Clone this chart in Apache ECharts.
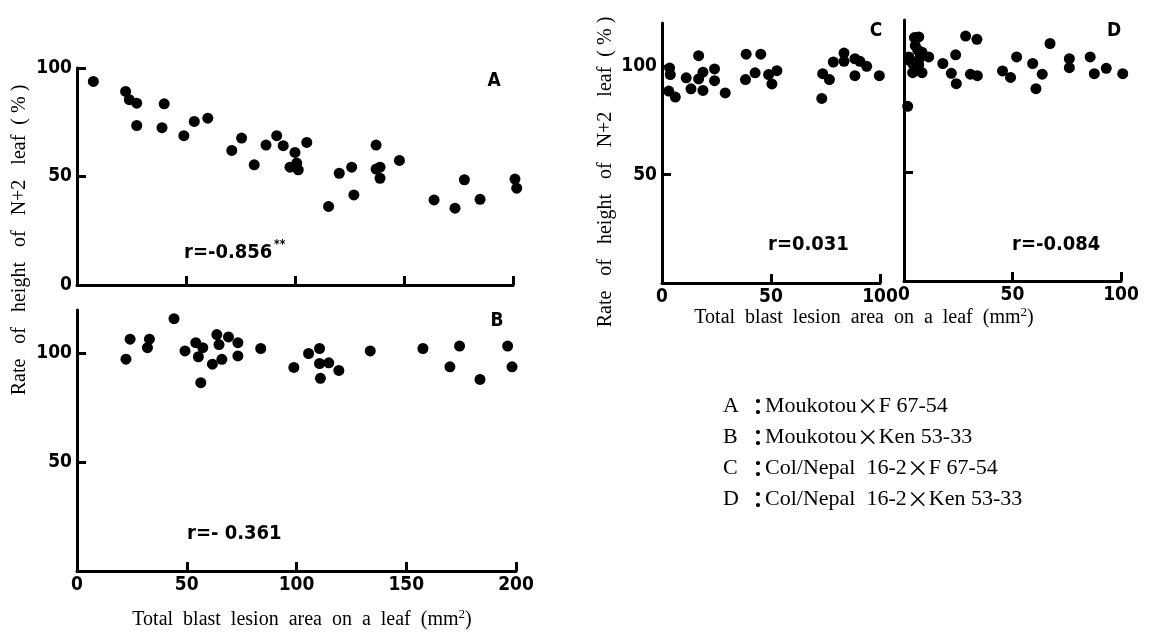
<!DOCTYPE html>
<html>
<head>
<meta charset="utf-8">
<title>Blast lesion area vs N+2 leaf height</title>
<script src="https://cdn.jsdelivr.net/npm/echarts@6/dist/echarts.min.js"></script>
<style>
	html, body { margin: 0; padding: 0; background: #ffffff; }
	#chart { width: 1152px; height: 636px; }
</style>
</head>
<body>
<div id="chart"></div>
<script>
/* A : Moukotou x F 67-54 */
var pointsA = [
	[7.5, 93.8], [22.3, 89.2], [24, 85.4], [27.4, 83.8], [27.4, 73.5], [40, 83.5],
	[39, 72.5], [49, 68.8], [53.8, 75.4], [60, 76.9], [71, 62], [75.5, 67.7],
	[81.3, 55.4], [86.7, 64.5], [91.6, 68.8], [94.6, 64.2], [97.7, 54.3], [100, 61.1],
	[100.8, 56.2], [101.5, 53.1], [105.4, 65.7], [115.4, 36.2], [120.3, 51.5], [126, 54.3],
	[127, 41.5], [137.2, 64.5], [137.2, 53.4], [139, 54.3], [139, 49.2], [147.9, 57.4],
	[163.8, 39.2], [173.4, 35.4], [177.7, 48.5], [184.9, 39.5], [200.9, 48.8], [201.7, 44.6]
]
/* B : Moukotou x Ken 53-33 */
var pointsB = [
	[22.3, 97.4], [24.2, 106.6], [32.1, 102.7], [33, 106.6], [44.2, 116], [49.2, 101.2],
	[54.1, 105], [55.3, 98.5], [56.4, 86.6], [57.3, 102.7], [61.7, 95.1], [63.7, 108.7],
	[64.7, 104.1], [66, 97.3], [69, 107.6], [73.3, 105], [73.3, 98.9], [83.7, 102.3],
	[98.8, 93.6], [105.5, 100], [110.5, 102.3], [110.5, 95.4], [110.9, 88.6], [114.7, 95.7],
	[119.3, 92.2], [133.6, 101.2], [157.6, 102.3], [169.9, 93.9], [174.3, 103.4], [183.6, 88.1],
	[196.2, 103.4], [198.2, 93.9]
]
/* C : Col/Nepal 16-2 x F 67-54 */
var pointsC = [
	[3.5, 99.2], [3.8, 96.2], [3.1, 88.6], [6.1, 85.8], [11.1, 94.7], [13.3, 89.6],
	[16.8, 104.9], [16.8, 94.2], [18.8, 97.3], [18.8, 88.9], [24.1, 98.8], [24.1, 93.4],
	[29, 87.7], [38.6, 105.6], [38.3, 93.9], [42.7, 97], [45.3, 105.6], [48.9, 96.2],
	[50.4, 91.9], [52.7, 98], [73.3, 85.2], [73.7, 96.6], [76.8, 93.9], [78.6, 102],
	[83.5, 106.1], [83.5, 102.3], [88.5, 95.7], [88.5, 103.5], [90.8, 102.3], [93.9, 100],
	[99.7, 95.7]
]
/* D : Col/Nepal 16-2 x Ken 53-33 */
var pointsD = [
	[2.2, 103], [1.7, 80.3], [4.8, 111.9], [6.8, 112.2], [5.2, 108.2], [6.3, 106.2],
	[4, 100], [4, 95.8], [6.8, 99.3], [8.3, 105.2], [8.3, 95.8], [11.4, 103],
	[7.1, 102.2], [17.9, 100], [21.8, 95.5], [23.8, 104], [24.1, 90.7], [28.4, 112.6],
	[30.6, 95.1], [33.6, 111.1], [33.8, 94.4], [45.4, 96.6], [49.1, 93.6], [51.9, 103],
	[59.3, 100], [60.8, 88.4], [63.7, 95.1], [67.3, 109.2], [76.2, 102.2], [76.2, 98.1],
	[85.8, 103], [87.7, 95.3], [93.2, 97.8], [100.8, 95.3]
]

var panelNames = ["A", "B", "C", "D"]
var rTexts = ["r=-0.856", "r=- 0.361", "r=0.031", "r=-0.084"]
var legendRows = [
	["A", "Moukotou", "F 67-54"],
	["B", "Moukotou", "Ken 53-33"],
	["C", "Col/Nepal  16-2", "F 67-54"],
	["D", "Col/Nepal  16-2", "Ken 53-33"]
]
var xTicksLong = [50, 100, 150, 200]
var xLabelsLong = [0, 50, 100, 150, 200]
var xTicksShort = [50, 100]
var xLabelsShort = [0, 50, 100]
var yTicks = [50, 100]

var numFont = "'Liberation Sans Narrow', 'DejaVu Sans Condensed', 'Roboto Condensed', sans-serif"
var serifFont = "'Liberation Serif', 'DejaVu Serif', serif"
var cjkFont = "'Noto Sans CJK JP', sans-serif"

var chart = echarts.init(document.getElementById("chart"))

function makeAxis(idx, max, ticks, labels, showLabel) {
	return {
		type: 'value',
		gridIndex: idx,
		min: 0,
		max: max,
		interval: 50,
		splitLine: { show: false },
		axisLine: { show: true, onZero: false, lineStyle: { color: '#000', width: 3 } },
		axisTick: { show: true, inside: true, length: 9, customValues: ticks, lineStyle: { color: '#000', width: 3 } },
		axisLabel: {
			show: showLabel,
			customValues: labels,
			margin: 5,
			color: '#000',
			fontFamily: numFont,
			fontWeight: 'bold',
			fontSize: 19
		}
	}
}

function scatter(idx, data) {
	return {
		type: 'scatter',
		xAxisIndex: idx,
		yAxisIndex: idx,
		data: data,
		symbolSize: 11,
		clip: false,
		itemStyle: { color: '#000', opacity: 1 }
	}
}

function txt(x, y, text, font, size, weight, align, extra) {
	var o = {
		type: 'text',
		x: x,
		y: y,
		style: {
			text: text,
			fill: '#000',
			font: (weight || 'normal') + ' ' + size + 'px ' + font,
			textAlign: align || 'left',
			textVerticalAlign: 'middle'
		}
	}
	if (extra) {
		for (var k in extra) o[k] = extra[k]
	}
	return o
}

var graphics = []
/* panel letters */
graphics.push(txt(494, 81, panelNames[0], numFont, 19, 'bold', 'center'))
graphics.push(txt(497, 321, panelNames[1], numFont, 19, 'bold', 'center'))
graphics.push(txt(876, 31, panelNames[2], numFont, 19, 'bold', 'center'))
graphics.push(txt(1114, 31, panelNames[3], numFont, 19, 'bold', 'center'))
/* r values */
graphics.push(txt(184, 253, rTexts[0], numFont, 20, 'bold', 'left'))
graphics.push(txt(274, 245, "**", numFont, 12, 'bold', 'left'))
graphics.push(txt(187, 534, rTexts[1], numFont, 20, 'bold', 'left'))
graphics.push(txt(768, 245, rTexts[2], numFont, 20, 'bold', 'left'))
graphics.push(txt(1012, 245, rTexts[3], numFont, 20, 'bold', 'left'))
/* axis titles */
var yTitle = "Rate   of   height   of   N+2   leaf  ( % )"
graphics.push(txt(20, 240, yTitle, serifFont, 20, 'normal', 'center', { rotation: Math.PI / 2 }))
graphics.push(txt(606, 172, yTitle, serifFont, 20, 'normal', 'center', { rotation: Math.PI / 2 }))
var xTitleRich = {
	t: { fontFamily: serifFont, fontSize: 20, fill: '#000' },
	s: { fontFamily: serifFont, fontSize: 13, fill: '#000', padding: [0, 0, 10, 0] }
}
graphics.push({
	type: 'text', x: 302, y: 620,
	style: {
		text: '{t|Total  blast  lesion  area  on  a  leaf  (mm}{s|2}{t|)}',
		textAlign: 'center', textVerticalAlign: 'middle', rich: xTitleRich
	}
})
graphics.push({
	type: 'text', x: 864, y: 318,
	style: {
		text: '{t|Total  blast  lesion  area  on  a  leaf  (mm}{s|2}{t|)}',
		textAlign: 'center', textVerticalAlign: 'middle', rich: xTitleRich
	}
})
/* legend of crosses */
var legRich = {
	t: { fontFamily: serifFont, fontSize: 22, fill: '#000' },
	x: { fontFamily: cjkFont, fontSize: 22, fill: '#000' }
}
for (var i = 0; i < legendRows.length; i++) {
	var yy = 406 + i * 31
	graphics.push(txt(723, yy, legendRows[i][0], serifFont, 22, 'normal', 'left'))
	graphics.push(txt(747, yy, "\uff1a", cjkFont, 22, 'bold', 'left'))
	graphics.push({
		type: 'text', x: 765, y: yy,
		style: {
			text: '{t|' + legendRows[i][1] + '}{x|\u00d7}{t|' + legendRows[i][2] + '}',
			textAlign: 'left', textVerticalAlign: 'middle', rich: legRich
		}
	})
}

var option = {
	animation: false,
	backgroundColor: '#ffffff',
	grid: [
		{ left: 77, top: 68, width: 436, height: 217 },
		{ left: 77, top: 310, width: 439, height: 261 },
		{ left: 662, top: 23, width: 218, height: 260 },
		{ left: 904, top: 20, width: 217, height: 261 }
	],
	xAxis: [
		makeAxis(0, 200, xTicksLong, xLabelsLong, false),
		makeAxis(1, 200, xTicksLong, xLabelsLong, true),
		makeAxis(2, 100, xTicksShort, xLabelsShort, true),
		makeAxis(3, 100, xTicksShort, xLabelsShort, true)
	],
	yAxis: [
		makeAxis(0, 100, yTicks, [0, 50, 100], true),
		makeAxis(1, 120, yTicks, yTicks, true),
		makeAxis(2, 120, yTicks, yTicks, true),
		makeAxis(3, 120, yTicks, yTicks, false)
	],
	series: [
		scatter(0, pointsA),
		scatter(1, pointsB),
		scatter(2, pointsC),
		scatter(3, pointsD)
	],
	graphic: graphics
}
chart.setOption(option)
</script>
</body>
</html>
